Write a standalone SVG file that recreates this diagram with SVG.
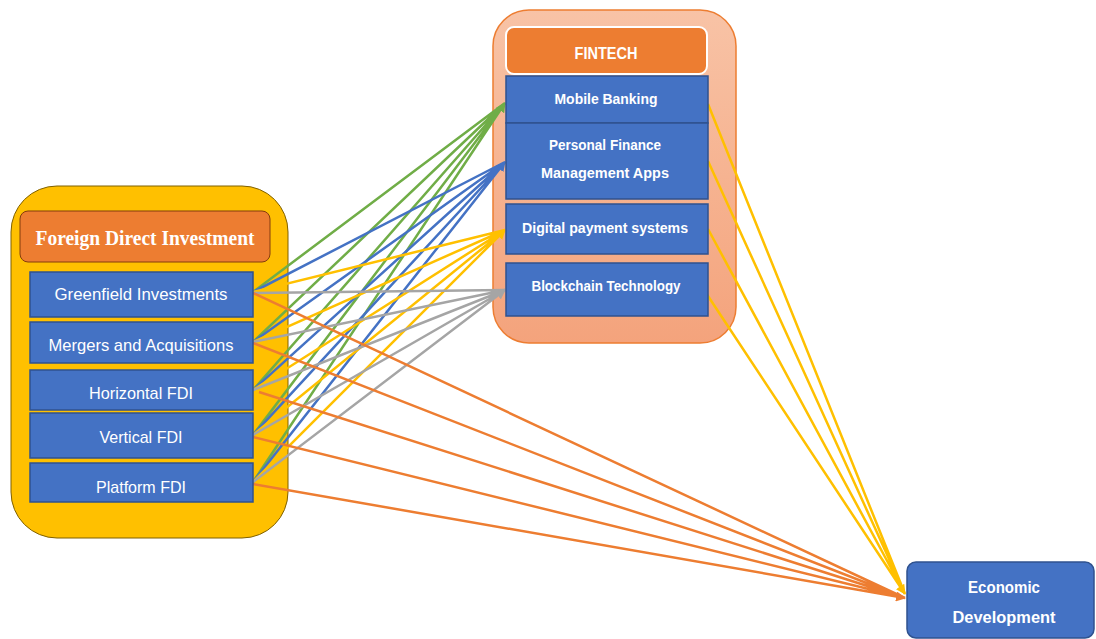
<svg xmlns="http://www.w3.org/2000/svg" width="1096" height="639" viewBox="0 0 1096 639">
<style>
.box{fill:#4472C4;stroke:#2F528F;stroke-width:1.5}
.t{font-family:"Liberation Sans",Arial,sans-serif;fill:#fff;text-anchor:middle}
.r{font-size:17px}
.b{font-size:14px;font-weight:bold}
.c{fill:none;stroke-width:2.5}
.g{stroke:#70AD47}.u{stroke:#4472C4}.y{stroke:#FFC000}.a{stroke:#A5A5A5}.o{stroke:#ED7D31}
</style>
<defs>
<linearGradient id="fg" x1="0" y1="0" x2="0" y2="1">
<stop offset="0" stop-color="#F8C3A6"/>
<stop offset="1" stop-color="#F4A37C"/>
</linearGradient>
<marker id="mg" viewBox="0 0 10 10" refX="9" refY="5" markerWidth="4" markerHeight="4" orient="auto"><path d="M0,0L10,5L0,10z" fill="#70AD47"/></marker>
<marker id="mu" viewBox="0 0 10 10" refX="9" refY="5" markerWidth="4" markerHeight="4" orient="auto"><path d="M0,0L10,5L0,10z" fill="#4472C4"/></marker>
<marker id="my" viewBox="0 0 10 10" refX="9" refY="5" markerWidth="4" markerHeight="4" orient="auto"><path d="M0,0L10,5L0,10z" fill="#FFC000"/></marker>
<marker id="ma" viewBox="0 0 10 10" refX="9" refY="5" markerWidth="4" markerHeight="4" orient="auto"><path d="M0,0L10,5L0,10z" fill="#A5A5A5"/></marker>
<marker id="mo" viewBox="0 0 10 10" refX="9" refY="5" markerWidth="4" markerHeight="4" orient="auto"><path d="M0,0L10,5L0,10z" fill="#ED7D31"/></marker>
</defs>
<rect width="1096" height="639" fill="#fff"/>

<g id="fdi-container">
<rect x="11" y="186" width="277" height="352" rx="46" fill="#FFC000" stroke="#7F6000" stroke-width="1"/>
</g>
<g id="fintech-container">
<rect x="493" y="10" width="243" height="333" rx="36" fill="url(#fg)" stroke="#ED7D31" stroke-width="1.5"/>
</g>

<g id="connectors">
<path class="c g" marker-end="url(#mg)" d="M253,292L505,103M253,342L505,103M253,390L505,103M253,435L505,103M253,482L505,103"/>
<path class="c u" marker-end="url(#mu)" d="M253,292L505,162M253,342L505,162M253,390L505,162M253,435L505,162M253,482L505,162"/>
<path class="c y" marker-end="url(#my)" d="M253,292L505,230M253,342L505,230M253,390L505,230M253,435L505,230M253,482L505,230"/>
<path class="c a" marker-end="url(#ma)" d="M253,293L505,290M253,342L505,290M253,390L505,290M253,435L505,290M253,482L505,290"/>
<path class="c o" marker-end="url(#mo)" d="M253,293L905,598M253,343L905,598M259,392L905,598M253,437L905,598M253,484L905,598"/>
<path class="c y" marker-end="url(#my)" d="M708,104L905,594M708,161L905,594M708,229L905,594M706,293L905,594"/>
</g>

<g id="fdi-title">
<rect x="20" y="211" width="250" height="51" rx="8" fill="#ED7D31" stroke="#843C0C" stroke-width="1"/>
<text x="145" y="245" textLength="219" lengthAdjust="spacingAndGlyphs" style="font-family:'Liberation Serif','Times New Roman',serif;font-size:20px;font-weight:bold;fill:#fff;text-anchor:middle">Foreign Direct Investment</text>
</g>
<g id="greenfield"><rect class="box" x="30" y="272" width="223" height="45"/><text class="t r" x="141" y="300" textLength="173" lengthAdjust="spacingAndGlyphs">Greenfield Investments</text></g>
<g id="mergers"><rect class="box" x="30" y="322" width="223" height="41"/><text class="t r" x="141" y="351" textLength="185" lengthAdjust="spacingAndGlyphs">Mergers and Acquisitions</text></g>
<g id="horizontal"><rect class="box" x="30" y="370" width="223" height="40"/><text class="t r" x="141" y="399" textLength="104" lengthAdjust="spacingAndGlyphs">Horizontal FDI</text></g>
<g id="vertical"><rect class="box" x="30" y="413" width="223" height="45"/><text class="t r" x="141" y="443" textLength="83" lengthAdjust="spacingAndGlyphs">Vertical FDI</text></g>
<g id="platform"><rect class="box" x="30" y="463" width="223" height="39"/><text class="t r" x="141" y="493" textLength="90" lengthAdjust="spacingAndGlyphs">Platform FDI</text></g>

<g id="fintech-title">
<rect x="506" y="27" width="201" height="47" rx="8" fill="#ED7D31" stroke="#fff" stroke-width="2"/>
<text class="t" x="606" y="59" textLength="63" lengthAdjust="spacingAndGlyphs" style="font-size:17px;font-weight:bold">FINTECH</text>
</g>
<g id="mobile"><rect class="box" x="506" y="76" width="202" height="47"/><text class="t b" x="606" y="104" textLength="103" lengthAdjust="spacingAndGlyphs">Mobile Banking</text></g>
<g id="pfm"><rect class="box" x="506" y="123" width="202" height="76"/><text class="t b" x="605" y="150" textLength="112" lengthAdjust="spacingAndGlyphs">Personal Finance</text><text class="t b" x="605" y="178" textLength="128" lengthAdjust="spacingAndGlyphs">Management Apps</text></g>
<g id="digital"><rect class="box" x="506" y="204" width="202" height="50"/><text class="t b" x="605" y="233" textLength="166" lengthAdjust="spacingAndGlyphs">Digital payment systems</text></g>
<g id="blockchain"><rect class="box" x="506" y="263" width="202" height="53"/><text class="t b" x="606" y="291" textLength="149" lengthAdjust="spacingAndGlyphs">Blockchain Technology</text></g>

<g id="economic">
<rect x="907" y="562" width="187" height="76" rx="9" fill="#4472C4" stroke="#2F528F" stroke-width="1.5"/>
<text class="t" x="1004" y="593" textLength="72" lengthAdjust="spacingAndGlyphs" style="font-size:17px;font-weight:bold">Economic</text>
<text class="t" x="1004" y="623" textLength="103" lengthAdjust="spacingAndGlyphs" style="font-size:17px;font-weight:bold">Development</text>
</g>
</svg>
